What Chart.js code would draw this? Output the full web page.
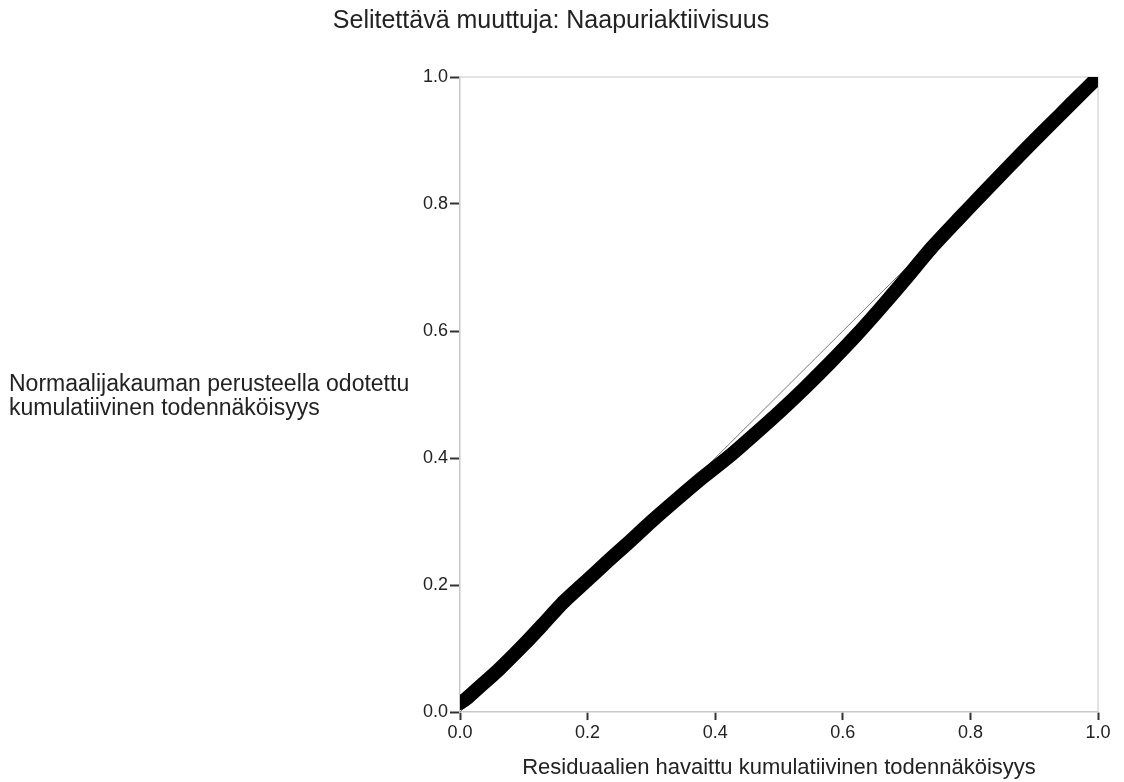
<!DOCTYPE html>
<html>
<head>
<meta charset="utf-8">
<script src="https://cdn.jsdelivr.net/npm/chart.js@4"></script>
<style>
  body { margin: 0; background: #fff; }
  canvas { display: block; }
</style>
</head>
<body>
<canvas id="ppChart" width="1124" height="782"></canvas>
<script>
const titleText = 'Selitettävä muuttuja: Naapuriaktiivisuus';
const yLabelLines = ['Normaalijakauman perusteella odotettu', 'kumulatiivinen todennäköisyys'];
const xLabelText = 'Residuaalien havaittu kumulatiivinen todennäköisyys';
const tickValues = [0, 0.2, 0.4, 0.6, 0.8, 1.0];

// observed cumulative prob (x) vs expected cumulative prob (y)
const observed = [0, 0.01, 0.03, 0.06, 0.1, 0.13, 0.16, 0.2, 0.23, 0.26, 0.3, 0.34, 0.38, 0.42, 0.46, 0.5, 0.54, 0.58, 0.62, 0.66, 0.7, 0.74, 0.78, 0.82, 0.86, 0.9, 0.94, 0.97, 0.995];
const expected = [0.014, 0.021, 0.039, 0.066, 0.106, 0.138, 0.171, 0.208, 0.236, 0.263, 0.3, 0.335, 0.369, 0.401, 0.436, 0.472, 0.51, 0.55, 0.592, 0.637, 0.684, 0.732, 0.775, 0.817, 0.859, 0.9, 0.94, 0.97, 0.995];
const refLine = [0, 1];

const FONT = '"Liberation Sans", Arial, sans-serif';

const decor = {
    id: 'decor',
    beforeDatasetsDraw(chart) {
        const { ctx, chartArea: a } = chart;
        ctx.save();
        ctx.strokeStyle = '#dcdcdc';
        ctx.lineWidth = 1.5;
        ctx.beginPath();
        ctx.moveTo(a.left, a.top);
        ctx.lineTo(a.right, a.top);
        ctx.lineTo(a.right, a.bottom);
        ctx.stroke();
        ctx.restore();
    },
    afterDraw(chart) {
        const { ctx, chartArea: a } = chart;
        ctx.save();
        ctx.fillStyle = '#222';
        ctx.textBaseline = 'middle';
        ctx.textAlign = 'center';
        ctx.font = '25px ' + FONT;
        ctx.fillText(titleText, 551, 21);
        ctx.font = '22px ' + FONT;
        ctx.fillText(xLabelText, (a.left + a.right) / 2, 768);
        ctx.font = '23px ' + FONT;
        ctx.textAlign = 'left';
        const mid = (a.top + a.bottom) / 2;
        yLabelLines.forEach((l, i) => ctx.fillText(l, 9, mid - 10 + i * 24));
        ctx.restore();
    }
};

new Chart(document.getElementById('ppChart').getContext('2d'), {
    type: 'scatter',
    data: {
        datasets: [
            {
                data: observed.map((x, i) => ({ x: x, y: expected[i] })),
                showLine: true,
                borderColor: '#000',
                borderWidth: 14,
                borderCapStyle: 'round',
                borderJoinStyle: 'round',
                pointRadius: 0,
                tension: 0.2
            },
            {
                data: refLine.map(v => ({ x: v, y: v })),
                showLine: true,
                borderColor: '#7a7a7a',
                borderWidth: 1,
                pointRadius: 0
            }
        ]
    },
    options: {
        responsive: false,
        animation: false,
        layout: { padding: { top: 77, right: 26, bottom: 0, left: 0 } },
        plugins: { legend: { display: false }, tooltip: { enabled: false } },
        scales: {
            x: {
                type: 'linear', min: 0, max: 1,
                afterFit: s => { s.height = 70; },
                afterBuildTicks: s => { s.ticks = tickValues.map(v => ({ value: v })); },
                grid: { drawOnChartArea: false, drawTicks: true, tickLength: 8, tickColor: '#333', tickWidth: 2 },
                border: { color: '#c8c8c8', width: 1.5 },
                ticks: { color: '#222', font: { size: 18, family: FONT }, padding: 2, maxRotation: 0, callback: v => v.toFixed(1) }
            },
            y: {
                type: 'linear', min: 0, max: 1,
                afterFit: s => { s.width = 460; },
                afterBuildTicks: s => { s.ticks = tickValues.map(v => ({ value: v })); },
                grid: { drawOnChartArea: false, drawTicks: true, tickLength: 10, tickColor: '#333', tickWidth: 2 },
                border: { color: '#c8c8c8', width: 1.5 },
                ticks: { color: '#222', font: { size: 18, family: FONT }, padding: 2, callback: v => v.toFixed(1) }
            }
        }
    },
    plugins: [decor]
});
</script>
</body>
</html>
